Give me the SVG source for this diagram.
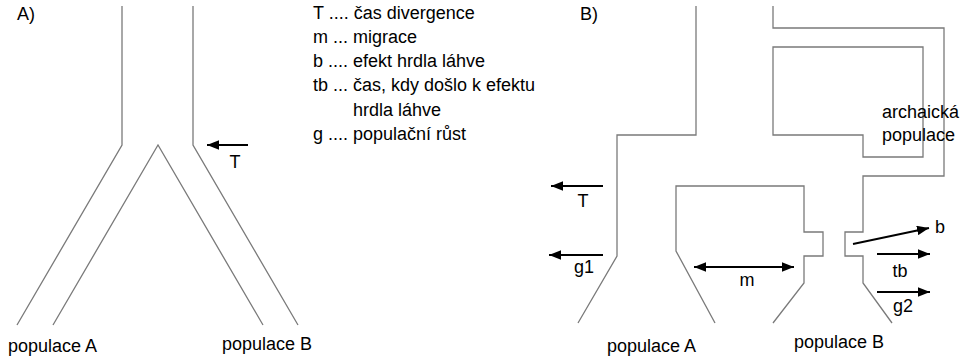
<svg xmlns="http://www.w3.org/2000/svg" width="963" height="359" viewBox="0 0 963 359">
<style>
.lin{fill:none;stroke:#7a7a7a;stroke-width:1.3;stroke-linejoin:miter}
.arr{fill:none;stroke:#000;stroke-width:1.8}
text{font-family:"Liberation Sans",Arial,sans-serif;font-size:18px;fill:#000}
.mid{text-anchor:middle}
</style>
<defs>
<marker id="ah" viewBox="0 0 10 8" refX="10" refY="4" markerWidth="12" markerHeight="10" markerUnits="userSpaceOnUse" orient="auto-start-reverse">
<path d="M0,0 L10,4 L0,8 z" fill="#000"/>
</marker>
</defs>
<rect width="963" height="359" fill="#fff"/>

<g id="panelA">
<text x="17" y="20">A)</text>
<g id="treeA">
<path class="lin" d="M122,6 L122,145 L17,325"/>
<path class="lin" d="M193,6 L193,145 L298,325"/>
<path class="lin" d="M53,325 L158,145 L263,325"/>
</g>
<text x="8" y="352">populace A</text>
<text x="222" y="350">populace B</text>
</g>

<g id="legend">
<text x="313" y="19">T .... čas divergence</text>
<text x="313" y="43">m ... migrace</text>
<text x="313" y="67">b .... efekt hrdla láhve</text>
<text x="313" y="91">tb ... čas, kdy došlo k efektu</text>
<text x="353" y="116">hrdla láhve</text>
<text x="313" y="140">g .... populační růst</text>
</g>

<g id="panelB">
<text x="580" y="20">B)</text>
<g id="treeB">
<path class="lin" d="M696,6 L696,135 L617,135 L617,256 L578,323"/>
<path class="lin" d="M773,6 L773,28 L944,28 L944,176 L863,176 L863,232 L845,232 L845,256 L863,256 L863,283 L892,323"/>
<path class="lin" d="M773,135 L773,47 L923,47 L923,157 L863,157 L863,135 Z"/>
<path class="lin" d="M715,323 L676,251 L676,186 L804,186 L804,232 L823,232 L823,256 L804,256 L804,283 L773,323"/>
</g>
<text x="882" y="118">archaická</text>
<text x="882" y="141">populace</text>
<text x="607" y="352">populace A</text>
<text x="794" y="348">populace B</text>
</g>

<g id="connectors">
<line class="arr" x1="248" y1="145" x2="207" y2="145" marker-end="url(#ah)"/>
<line class="arr" x1="603" y1="186" x2="551" y2="186" marker-end="url(#ah)"/>
<line class="arr" x1="603" y1="255" x2="549" y2="255" marker-end="url(#ah)"/>
<line class="arr" x1="694" y1="267" x2="794" y2="267" marker-start="url(#ah)" marker-end="url(#ah)"/>
<line class="arr" x1="853" y1="244" x2="929" y2="228" marker-end="url(#ah)"/>
<line class="arr" x1="877" y1="254" x2="930" y2="254" marker-end="url(#ah)"/>
<line class="arr" x1="877" y1="292" x2="930" y2="292" marker-end="url(#ah)"/>
</g>

<g id="labels">
<text class="mid" x="235" y="168">T</text>
<text class="mid" x="583" y="207">T</text>
<text class="mid" x="584" y="273">g1</text>
<text class="mid" x="747" y="286">m</text>
<text x="935" y="233">b</text>
<text class="mid" x="900" y="277">tb</text>
<text class="mid" x="903" y="312">g2</text>
</g>
</svg>
